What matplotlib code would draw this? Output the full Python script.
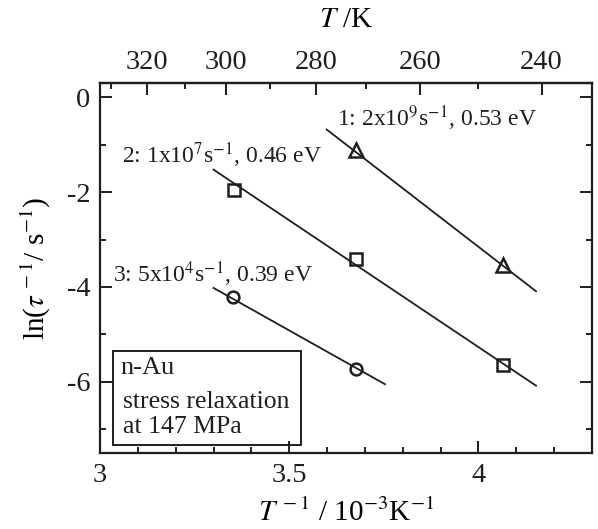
import matplotlib
matplotlib.use('Agg')
import matplotlib.pyplot as plt
from matplotlib.patches import Rectangle

# data (x: 1000/T, y: ln(1/tau))
x_tri = [3.676, 4.064]
y_tri = [-1.12, -3.54]
x_sq = [3.355, 3.676, 4.066]
y_sq = [-1.95, -3.42, -5.64]
x_circ = [3.352, 3.676]
y_circ = [-4.21, -5.72]

# fitted lines (end points)
fit1_x = [3.599, 4.152]
fit1_y = [-0.68, -4.09]
fit2_x = [3.30, 4.152]
fit2_y = [-1.525, -6.08]
fit3_x = [3.30, 3.753]
fit3_y = [-4.02, -6.05]

top_ticks = [320, 300, 280, 260, 240]
top_minor = [330, 310, 290, 270, 250]

plt.rcParams['font.family'] = ['Liberation Serif', 'DejaVu Serif']
plt.rcParams['mathtext.fontset'] = 'stix'
plt.rcParams['axes.unicode_minus'] = False

col = '#1e1e1e'
fig = plt.figure(figsize=(5.98, 5.29), dpi=100)
ax = fig.add_axes([0.1672, 0.1437, 0.8228, 0.6993])

ax.plot(fit1_x, fit1_y, color=col, lw=1.3)
ax.plot(fit2_x, fit2_y, color=col, lw=1.3)
ax.plot(fit3_x, fit3_y, color=col, lw=1.3)
ax.plot(x_tri, y_tri, ls='none', marker='^', ms=9.5, mfc='none', mec=col, mew=1.8)
ax.plot(x_sq, y_sq, ls='none', marker='s', ms=9, mfc='none', mec=col, mew=1.8)
ax.plot(x_circ, y_circ, ls='none', marker='o', ms=8.5, mfc='none', mec=col, mew=1.8)

ax.set_xlim(3, 4.3)
ax.set_ylim(-7.5, 0.3)
ax.set_xticks([3, 3.5, 4])
ax.set_xticklabels(['3', '3.5', '4'])
ax.set_xticks([3.1, 3.2, 3.3, 3.4, 3.6, 3.7, 3.8, 3.9, 4.1, 4.2], minor=True)
ax.set_yticks([0, -2, -4, -6])
ax.set_yticklabels(['0', '-2', '-4', '-6'])
ax.set_yticks([-1, -3, -5, -7], minor=True)

for s in ax.spines.values():
    s.set_linewidth(1.6)
    s.set_color(col)
ax.tick_params(which='both', direction='in', right=True, labelsize=20.5, colors=col, width=1.4)
ax.tick_params(which='major', length=8.5, pad=7)
ax.tick_params(which='minor', length=4.5)

top = ax.secondary_xaxis('top', functions=(lambda x: 1000 / x, lambda x: 1000 / x))
top.set_xticks(top_ticks)
top.set_xticklabels([str(t) for t in top_ticks])
top.set_xticks(top_minor, minor=True)
top.tick_params(which='both', direction='in', labelsize=20.5, colors=col, width=1.4)
top.tick_params(which='major', length=8.5, pad=6)
top.tick_params(which='minor', length=4.5)
top.spines['top'].set_linewidth(1.6)
top.set_xlabel('$T$ /K', fontsize=21, labelpad=16)

ax.set_xlabel('$T^{\\,-1}$ / 10$^{-3}$K$^{-1}$', fontsize=21, labelpad=8)
ax.set_ylabel('ln($\\tau^{\\,-1}$/ s$^{-1}$)', fontsize=21, labelpad=10)

ax.text(3.626, -0.44, '1: 2x10$^{9}$s$^{-1}$, 0.53 eV', fontsize=17, va='center', color=col)
ax.text(3.058, -1.22, '2: 1x10$^{7}$s$^{-1}$, 0.46 eV', fontsize=17, va='center', color=col)
ax.text(3.034, -3.72, '3: 5x10$^{4}$s$^{-1}$, 0.39 eV', fontsize=17, va='center', color=col)

ax.add_patch(Rectangle((3.034, -7.34), 0.497, 1.98, fill=False, ec=col, lw=1.4))
ax.text(3.055, -5.71, 'n-Au', fontsize=19, va='center', color=col)
ax.text(3.062, -6.42, 'stress relaxation', fontsize=18.5, va='center', color=col)
ax.text(3.062, -6.95, 'at 147 MPa', fontsize=18.5, va='center', color=col)

fig.savefig('out.png', dpi=100)
